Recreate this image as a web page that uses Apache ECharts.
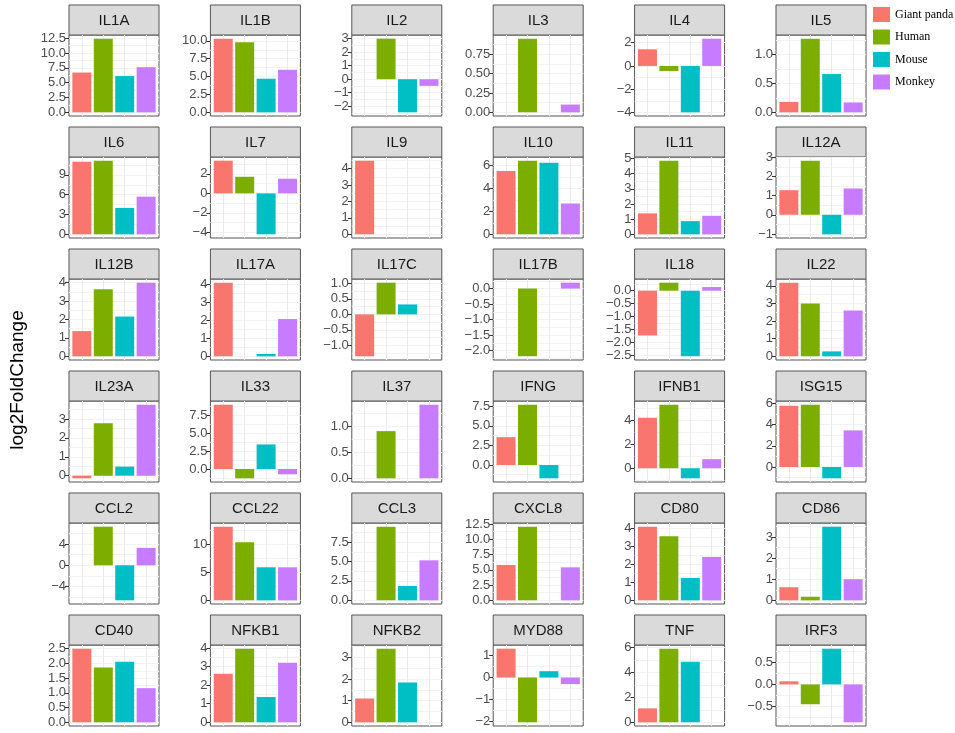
<!DOCTYPE html>
<html>
<head>
  <meta charset="utf-8">
  <title>log2FoldChange by gene</title>
  <script src="https://cdn.jsdelivr.net/npm/echarts@6/dist/echarts.min.js"></script>
  <style>
    html, body { margin: 0; padding: 0; background: #fff; }
    #main { width: 955px; height: 733px; }
  </style>
</head>
<body>
<div id="main"></div>
<script>
  // one panel per gene, four species per panel
  const genes = ['IL1A', 'IL1B', 'IL2', 'IL3', 'IL4', 'IL5',
    'IL6', 'IL7', 'IL9', 'IL10', 'IL11', 'IL12A',
    'IL12B', 'IL17A', 'IL17C', 'IL17B', 'IL18', 'IL22',
    'IL23A', 'IL33', 'IL37', 'IFNG', 'IFNB1', 'ISG15',
    'CCL2', 'CCL22', 'CCL3', 'CXCL8', 'CD80', 'CD86',
    'CD40', 'NFKB1', 'NFKB2', 'MYD88', 'TNF', 'IRF3'];
  const species = ['Giant panda', 'Human', 'Mouse', 'Monkey'];
  const colors = ['#F8766D', '#7CAE00', '#00BFC4', '#C77CFF'];

  const giantPanda = [6.7, 10.3, null, null, 1.43, 0.18,
    11.0, 3.35, 4.48, 5.5, 1.38, 1.28,
    1.37, 4.11, -1.35, null, -1.74, 4.18,
    -0.14, 8.98, null, 3.56, 4.22, 5.81,
    null, 13.15, null, 5.79, 4.09, 0.62,
    2.5, 2.61, 1.1, 1.32, 1.12, 0.07];
  const human = [12.4, 9.8, 3.0, 0.95, -0.43, 1.27,
    11.15, 1.7, null, 6.4, 4.85, 2.82,
    3.64, null, 1.02, -2.18, 0.31, 3.0,
    2.77, -1.3, 0.91, 7.72, 5.31, 5.9,
    7.27, 10.36, 9.48, 12.06, 3.56, 0.17,
    1.86, 3.96, 3.4, -2.05, 5.9, -0.45];
  const mouse = [6.1, 4.7, -2.45, null, -3.98, 0.66,
    4.0, -4.2, null, 6.23, 0.87, -1.02,
    2.16, 0.13, 0.32, null, -2.55, 0.28,
    0.48, 3.43, null, -1.71, -0.84, -1.08,
    -6.6, 5.9, 1.84, null, 1.24, 3.49,
    2.06, 1.36, 1.84, 0.29, 4.86, 0.81];
  const monkey = [7.6, 5.95, -0.49, 0.1, 2.34, 0.17,
    5.7, 1.5, null, 2.68, 1.22, 1.37,
    4.0, 2.08, null, 0.19, 0.14, 2.6,
    3.76, -0.74, 1.42, null, 0.76, 3.46,
    3.28, 5.9, 5.15, 5.4, 2.41, 1.0,
    1.16, 3.21, null, -0.3, null, -0.86];

  // y break step of each panel
  const tickSteps = [2.5, 2.5, 1, 0.25, 2, 0.5,
    3, 2, 1, 2, 1, 1,
    1, 1, 0.5, 0.5, 0.5, 1,
    1, 2.5, 0.5, 2.5, 2, 2,
    4, 5, 2.5, 2.5, 1, 1,
    0.5, 1, 1, 1, 2, 0.5];

  const speciesValues = [giantPanda, human, mouse, monkey];

  const NCOL = 6;
  const colLeft = c => 69 + c * 141.4;
  const rowTop = r => 5 + r * 122;
  const PW = 90, STRIP = 30, PH = 81;

  function decimals(step) {
    if (step < 0.5) return 2;
    return step % 1 === 0 ? 0 : 1;
  }
  function breaks(lo, hi, step) {
    const out = [];
    for (let v = Math.ceil(lo / step - 1e-9) * step; v <= hi + 1e-9; v += step) {
      out.push(+v.toFixed(6));
    }
    return out;
  }

  const grid = [], xAxis = [], yAxis = [], series = [], graphic = [];

  genes.forEach(function (gene, i) {
    const c = i % NCOL, r = Math.floor(i / NCOL);
    const left = colLeft(c), top = rowTop(r);
    const vals = speciesValues.map(a => a[i]).filter(v => v != null);
    const lo = Math.min(0, ...vals), hi = Math.max(0, ...vals);
    const pad = (hi - lo) * 0.05;
    const yMin = lo - pad, yMax = hi + pad;
    const step = tickSteps[i];
    const dec = decimals(step);

    grid.push({
      left: left, top: top + STRIP, width: PW, height: PH,
      show: true, backgroundColor: '#fff', borderColor: '#555', borderWidth: 1
    });
    xAxis.push({
      gridIndex: i, type: 'value', min: 0.4, max: 4.6,
      axisLine: { show: false },
      axisLabel: { show: false },
      axisTick: { show: false, customValues: [1, 2, 3, 4] },
      splitLine: { show: true, lineStyle: { color: '#ebebeb', width: 1 } }
    });
    // labelled axis with major grid
    yAxis.push({
      gridIndex: i, type: 'value', min: yMin, max: yMax,
      axisLine: { show: false },
      axisTick: {
        show: true, length: 4, customValues: breaks(yMin, yMax, step),
        lineStyle: { color: '#333' }
      },
      axisLabel: {
        show: true, margin: 3, customValues: breaks(yMin, yMax, step),
        fontFamily: 'Liberation Sans, Arial, sans-serif', fontSize: 13, color: '#4d4d4d',
        formatter: function (v) {
          const s = Math.abs(v).toFixed(dec);
          return (v < -1e-9 ? '\u2212' : '') + s;
        }
      },
      splitLine: { show: true, lineStyle: { color: '#ebebeb', width: 1 } }
    });
    // minor grid lines
    yAxis.push({
      gridIndex: i, type: 'value', min: yMin, max: yMax,
      axisLine: { show: false },
      axisTick: { show: false, customValues: breaks(yMin, yMax, step / 2) },
      axisLabel: { show: false },
      splitLine: { show: true, lineStyle: { color: '#f2f2f2', width: 1 } }
    });

    species.forEach(function (name, k) {
      const v = speciesValues[k][i];
      series.push({
        name: name, type: 'bar',
        xAxisIndex: i, yAxisIndex: 2 * i,
        barWidth: 19, barGap: '-100%',
        itemStyle: { color: colors[k] },
        data: v == null ? [] : [[k + 1, v]],
        silent: true
      });
    });

    graphic.push({
      type: 'group',
      children: [
        {
          type: 'rect',
          shape: { x: left, y: top, width: PW, height: STRIP },
          style: { fill: '#dadada', stroke: '#555', lineWidth: 1 }
        },
        {
          type: 'text',
          x: left + PW / 2, y: top + STRIP / 2 + 1,
          style: {
            text: gene, fill: '#1a1a1a', align: 'center', verticalAlign: 'middle',
            font: '15px "Liberation Sans", Arial, sans-serif'
          }
        }
      ]
    });
  });

  graphic.push({
    type: 'text',
    x: 18, y: 380, rotation: Math.PI / 2,
    style: {
      text: 'log2FoldChange', fill: '#000', align: 'center', verticalAlign: 'middle',
      font: '19px "Liberation Sans", Arial, sans-serif'
    }
  });

  var myChart = echarts.init(document.getElementById('main'));

  var option = {
    animation: false,
    legend: {
      data: species,
      orient: 'vertical',
      left: 871, top: 5, padding: 2,
      itemWidth: 17, itemHeight: 15, itemGap: 7.5,
      icon: 'rect',
      selectedMode: false,
      textStyle: { fontFamily: 'Liberation Serif, Times New Roman, serif', fontSize: 12, color: '#000' }
    },
    grid: grid,
    xAxis: xAxis,
    yAxis: yAxis,
    series: series,
    graphic: graphic
  };

  myChart.setOption(option);
</script>
</body>
</html>
